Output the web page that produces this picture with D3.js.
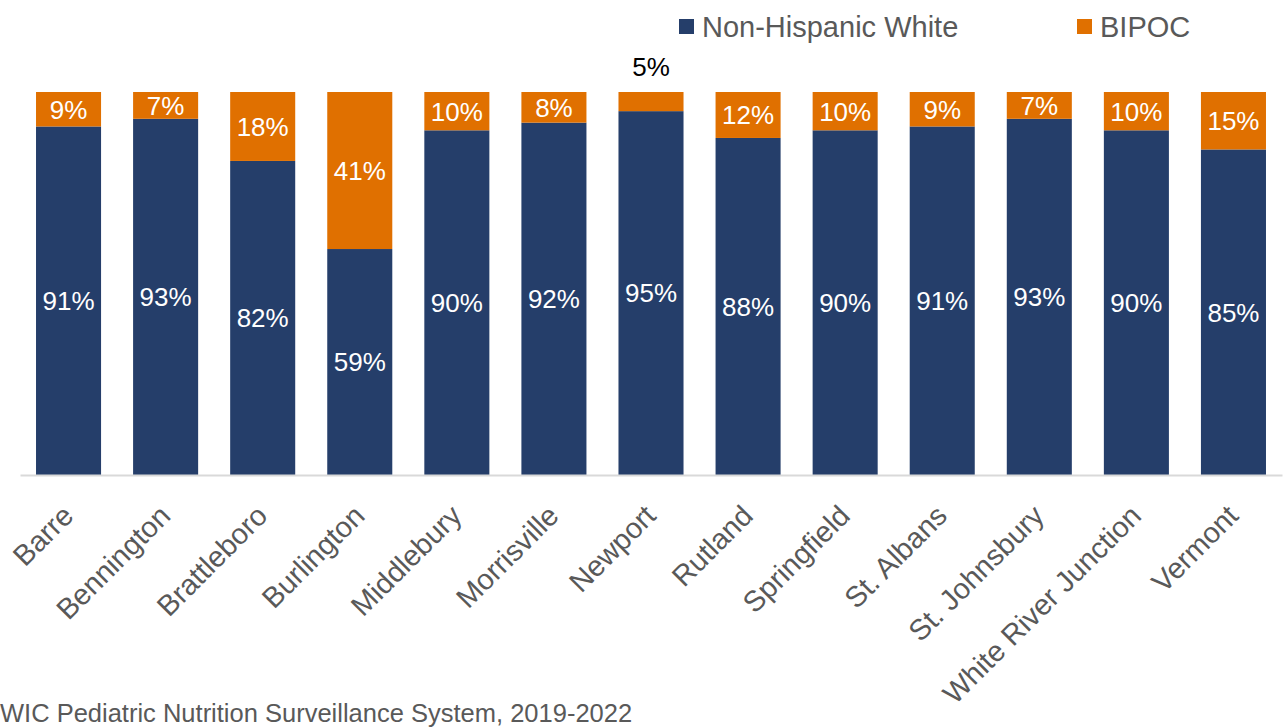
<!DOCTYPE html>
<html>
<head>
<meta charset="utf-8">
<script src="https://cdn.jsdelivr.net/npm/d3@7"></script>
<style>
  body { margin: 0; background: #fff; }
  svg { display: block; font-family: "Liberation Sans", Arial, sans-serif; }
</style>
</head>
<body>
<div id="chart"></div>
<script>
// data
const sites = ["Barre", "Bennington", "Brattleboro", "Burlington", "Middlebury", "Morrisville",
  "Newport", "Rutland", "Springfield", "St. Albans", "St. Johnsbury", "White River Junction", "Vermont"];
const whitePct = [91, 93, 82, 59, 90, 92, 95, 88, 90, 91, 93, 90, 85];
const bipocPct = [9, 7, 18, 41, 10, 8, 5, 12, 10, 9, 7, 10, 15];
const seriesNames = ["Non-Hispanic White", "BIPOC"];
const sourceNote = "WIC Pediatric Nutrition Surveillance System, 2019-2022";

const W = 1286, H = 727;
const colors = { "Non-Hispanic White": "#253E6A", "BIPOC": "#E07000" };

const svg = d3.select("#chart").append("svg")
  .attr("width", W)
  .attr("height", H);

const rows = sites.map((s, i) => ({ site: s, "Non-Hispanic White": whitePct[i], "BIPOC": bipocPct[i] }));
const stacked = d3.stack().keys(seriesNames)(rows);

// scales
const x = d3.scaleBand()
  .domain(sites)
  .range([20, 1282])
  .paddingInner(0.33)
  .paddingOuter(0.165);

const y = d3.scaleLinear()
  .domain([0, 100])
  .range([475, 92]);

// bars
const layer = svg.selectAll("g.layer")
  .data(stacked)
  .join("g")
  .attr("class", "layer")
  .attr("fill", d => colors[d.key]);

layer.selectAll("rect")
  .data(d => d)
  .join("rect")
  .attr("x", d => x(d.data.site))
  .attr("width", x.bandwidth())
  .attr("y", d => y(d[1]))
  .attr("height", d => y(d[0]) - y(d[1]));

// data labels (too-thin segments get their label above the bar, in black)
stacked.forEach(s => {
  s.forEach(d => {
    const v = d[1] - d[0];
    const small = (y(d[0]) - y(d[1])) < 20;
    svg.append("text")
      .attr("x", x(d.data.site) + x.bandwidth() / 2)
      .attr("y", small ? y(d[1]) - 25 : (y(d[0]) + y(d[1])) / 2)
      .attr("dy", "0.36em")
      .attr("text-anchor", "middle")
      .style("font-size", "26px")
      .style("fill", small ? "#000" : "#fff")
      .text(v + "%");
  });
});

// x axis
const xAxis = svg.append("g")
  .attr("transform", "translate(0,475)")
  .call(d3.axisBottom(x).tickSize(0).tickSizeOuter(0));
xAxis.select(".domain").attr("stroke", "#D9D9D9").attr("stroke-width", 2);
xAxis.selectAll("text")
  .attr("fill", "#595959")
  .style("font-size", "29px")
  .style("font-family", "Liberation Sans, Arial, sans-serif")
  .attr("text-anchor", "end")
  .attr("dy", "0.9em")
  .attr("transform", "translate(-14,22) rotate(-45)");

// legend
const legendX = [679, 1077];
seriesNames.forEach((name, i) => {
  const g = svg.append("g").attr("transform", `translate(${legendX[i]},19)`);
  g.append("rect").attr("width", 15).attr("height", 15).attr("fill", colors[name]);
  g.append("text")
    .attr("x", 23)
    .attr("y", 8)
    .attr("dy", "0.36em")
    .style("font-size", "29px")
    .style("fill", "#595959")
    .text(name);
});

// source
svg.append("text")
  .attr("x", 0)
  .attr("y", 722)
  .style("font-size", "25.5px")
  .style("fill", "#595959")
  .text(sourceNote);
</script>
</body>
</html>
